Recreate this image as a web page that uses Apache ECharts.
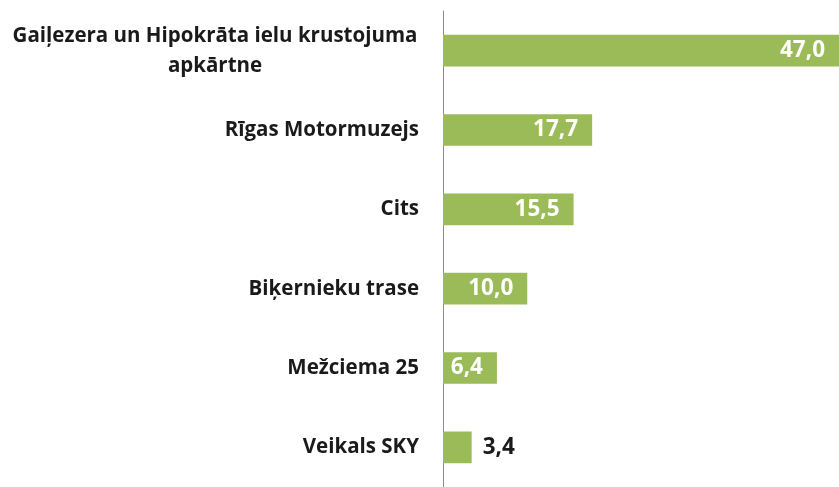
<!DOCTYPE html>
<html>
<head>
<meta charset="utf-8">
<script src="https://cdn.jsdelivr.net/npm/echarts@6/dist/echarts.min.js"></script>
<style>
  html, body { margin: 0; padding: 0; background: #fff; }
  #main { width: 839px; height: 487px; }
</style>
</head>
<body>
<div id="main"></div>
<script>
// kategorijas no augšas uz leju
var categories = [
  'Gaiļezera un Hipokrāta ielu krustojuma apkārtne',
  'Rīgas Motormuzejs',
  'Cits',
  'Biķernieku trase',
  'Mežciema 25',
  'Veikals SKY'
];
var values = [47.0, 17.7, 15.5, 10.0, 6.4, 3.4];

var FONT = '"Open Sans", sans-serif';
var chart = echarts.init(document.getElementById('main'), null, { renderer: 'canvas' });

var data = values.map(function (v, i) {
  var item = { value: v };
  if (v < 5) {
    // mazs stabiņš - vērtība ārpusē
    item.label = { position: 'right', color: '#1a1a1a', distance: 11 };
  }
  return item;
});

var option = {
  animation: false,
  grid: { left: 443, right: 0, top: 11, height: 480, containLabel: false },
  xAxis: {
    type: 'value',
    min: 0,
    max: 47,
    show: false
  },
  yAxis: {
    type: 'category',
    inverse: true,
    data: categories,
    axisLine: { show: true, lineStyle: { color: '#8c8c8c', width: 1 } },
    axisTick: { show: false },
    axisLabel: {
      margin: 24,
      color: '#1a1a1a',
      fontFamily: FONT,
      fontWeight: 'bold',
      fontSize: 20.5,
      formatter: function (val, idx) {
        if (idx === 0) {
          return '{w|Gaiļezera un Hipokrāta ielu krustojuma}\n{w|apkārtne}';
        }
        return val;
      },
      rich: {
        w: {
          width: 408,
          align: 'center',
          lineHeight: 30,
          fontFamily: FONT,
          fontWeight: 'bold',
          fontSize: 20.5,
          color: '#1a1a1a'
        }
      }
    }
  },
  series: [{
    type: 'bar',
    data: data,
    barWidth: '40%',
    itemStyle: { color: '#9BBB59' },
    label: {
      show: true,
      position: 'insideRight',
      distance: 14,
      color: '#ffffff',
      fontFamily: FONT,
      fontWeight: 'bold',
      fontSize: 22.5,
      formatter: function (p) {
        return p.value.toFixed(1).replace('.', ',');
      }
    }
  }]
};
chart.setOption(option);
</script>
</body>
</html>
